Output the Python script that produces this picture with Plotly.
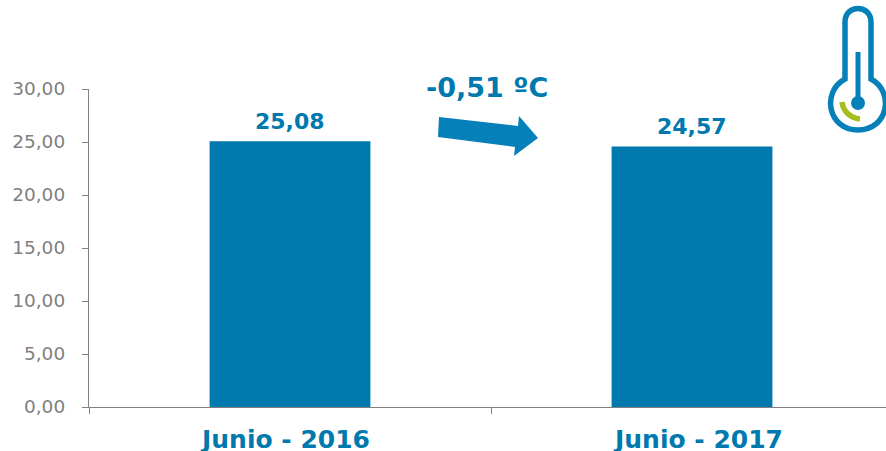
import plotly.graph_objects as go

categories = ["Junio - 2016", "Junio - 2017"]
values = [25.08, 24.57]
y_ticks = [0, 5, 10, 15, 20, 25, 30]
change_label = "-0,51 ºC"

BLUE = "#0079AE"
ARROW_BLUE = "#0580B9"
GREY = "#7F7F7F"
GREEN = "#A4BE1E"
L, T, R, B = 89, 89, 886, 407

def px(x):
    return (x - L) / (R - L)

def py(y):
    return (B - y) / (B - T)

def path(segments, close=False):
    out = []
    for cmd, *pts in segments:
        out.append(cmd + " ".join(f"{px(pts[i]):.5f},{py(pts[i + 1]):.5f}" for i in range(0, len(pts), 2)))
    return " ".join(out) + (" Z" if close else "")

def shape(p, **kw):
    return dict(type="path", xref="paper", yref="paper", path=p, layer="above", **kw)

arrow = path([("M", 439, 117), ("L", 518, 126), ("L", 519, 116), ("L", 538, 138),
              ("L", 514, 156), ("L", 515, 147), ("L", 438, 137)], close=True)

thermo_outline = path([
    ("M", 845, 79), ("L", 845, 22),
    ("C", 845, 4, 871, 4, 871, 22),
    ("L", 871, 79),
    ("C", 895, 92, 888, 130, 858, 130),
    ("C", 828, 130, 821, 92, 845, 79),
], close=True)
thermo_stem = path([("M", 858, 52), ("L", 858, 103)])
thermo_arc = path([("M", 842, 102), ("C", 843, 111, 850, 118, 860, 119)])

shapes = [
    shape(arrow, fillcolor=ARROW_BLUE, line=dict(width=0)),
    shape(thermo_outline, line=dict(color=ARROW_BLUE, width=5.5), fillcolor="rgba(0,0,0,0)"),
    shape(thermo_stem, line=dict(color=ARROW_BLUE, width=5)),
    dict(type="circle", xref="paper", yref="paper", x0=px(851), x1=px(865), y0=py(110), y1=py(96),
         fillcolor=ARROW_BLUE, line=dict(width=0), layer="above"),
    shape(thermo_arc, line=dict(color=GREEN, width=5.5)),
]

value_labels = [dict(text=f"{v:.2f}".replace(".", ","), x=c, y=v, xref="x", yref="y", xanchor="center",
                     yanchor="middle", yshift=20, showarrow=False,
                     font=dict(family="DejaVu Sans", size=22, color=BLUE, weight="bold"))
                for c, v in zip(categories, values)]
category_labels = [dict(text=c, x=i, y=0, xref="x", yref="y", xanchor="center", yanchor="middle",
                        xshift=s, yshift=-32, showarrow=False,
                        font=dict(family="DejaVu Sans", size=25, color=BLUE, weight="bold"))
                   for i, (c, s) in enumerate(zip(categories, [-5, 6]))]

fig = go.Figure(go.Bar(
    x=categories, y=values, width=0.4, marker=dict(color=BLUE, line=dict(width=0)),
))
fig.update_layout(
    width=886, height=451, margin=dict(l=L, r=886 - R, t=T, b=451 - B, autoexpand=False),
    paper_bgcolor="white", plot_bgcolor="white", showlegend=False, separators=",.",
    shapes=shapes,
    annotations=value_labels + category_labels + [
        dict(text=change_label, xref="paper", yref="paper", x=px(487), y=py(87),
             xanchor="center", yanchor="middle", showarrow=False,
             font=dict(family="DejaVu Sans", size=27, color=BLUE, weight="bold"))],
)
fig.update_xaxes(
    type="category", range=[-0.5, 1.4826], tickson="boundaries", ticks="outside", ticklen=6,
    tickcolor="#808080", tickwidth=1, showline=True, linecolor="#808080", linewidth=1.25,
    showgrid=False, zeroline=False, showticklabels=False,
)
fig.update_yaxes(
    range=[0, 30], tickvals=y_ticks, tickformat=".2f", ticks="outside", ticklen=6,
    tickcolor="#808080", tickwidth=1, showline=True, linecolor="#808080", linewidth=1.25,
    showgrid=False, zeroline=False, ticklabelstandoff=13,
    tickfont=dict(family="DejaVu Sans", size=18.5, color=GREY),
)
fig.write_html("out.html", config={"displayModeBar": False},
               post_script="document.body.style.margin='0';")
